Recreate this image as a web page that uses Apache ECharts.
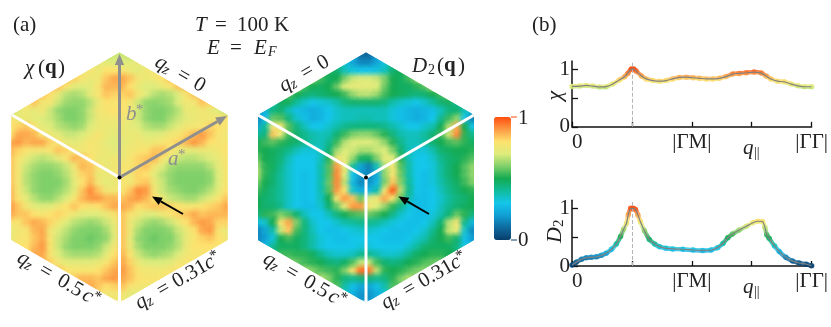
<!DOCTYPE html>
<html>
<head>
<meta charset="utf-8">
<style>
  html, body { margin: 0; padding: 0; background: #fff; }
  #chart { width: 831px; height: 327px; }
</style>
<script src="https://cdn.jsdelivr.net/npm/echarts@6/dist/echarts.min.js"></script>
</head>
<body>
<div id="chart"></div>
<script>
// map values in percent, one row every 8px, each row centred on the hexagon
const chiRows = [
  [66,68,68,66],
  [72,74,72,70,70,72,74,72],
  [80,76,78,74,80,80,78,74,72,76,78,80],
  [84,82,78,74,76,84,88,88,84,76,74,76,80,84],
  [86,84,78,72,70,72,78,86,86,86,80,74,70,70,74,78,84,86],
  [86,84,80,72,66,64,66,72,78,84,82,82,84,76,70,66,64,66,70,78,84,88],
  [80,84,76,76,68,63,62,62,66,74,80,78,80,76,68,62,61,62,64,70,76,76,84,82],
  [66,72,76,72,76,68,62,60,60,62,68,76,78,80,80,76,68,62,60,60,62,66,74,74,76,74,70,66],
  [80,74,74,72,70,68,64,60,60,62,68,74,76,76,76,74,68,62,60,60,64,68,72,74,76,76,78,80],
  [78,82,84,78,72,70,66,64,62,64,70,74,74,74,74,72,70,66,64,64,68,72,76,76,78,82,80,78],
  [80,88,88,86,78,74,72,68,68,70,74,78,74,72,74,74,74,70,70,72,76,78,82,86,90,84,78,76],
  [88,90,86,88,88,82,78,74,72,74,78,76,72,70,72,74,76,74,76,78,80,82,86,90,86,80,78,78],
  [86,82,78,76,76,78,84,82,76,76,78,76,74,72,74,76,78,80,84,84,78,74,72,72,74,74,76,80],
  [84,78,72,68,66,68,72,78,86,84,80,74,74,76,74,78,82,84,86,78,72,68,66,66,68,70,74,78],
  [84,76,68,64,62,62,64,68,76,86,84,78,74,76,78,78,82,84,76,70,64,62,62,62,62,66,72,78],
  [84,76,66,62,60,60,62,66,74,82,84,74,74,76,78,76,82,80,72,66,62,60,60,60,60,62,70,78],
  [84,76,66,62,60,60,60,64,72,80,86,76,72,74,78,76,82,84,74,68,62,60,60,60,60,62,70,78],
  [86,76,68,62,60,60,62,66,72,84,92,84,76,76,78,84,92,90,76,68,64,62,60,60,62,66,72,80],
  [86,78,72,66,62,62,66,70,78,86,90,90,86,86,84,88,90,86,80,74,68,66,64,64,68,72,78,84],
  [90,84,76,72,70,72,76,80,84,80,78,80,84,88,88,86,80,82,84,84,82,80,78,78,80,82,84,88],
  [88,84,84,80,78,80,82,78,74,70,70,70,74,78,84,78,74,70,70,74,78,82,84,88,84,86,86,86],
  [78,78,84,88,86,82,76,70,66,64,62,64,68,74,84,74,68,64,62,64,68,74,80,86,90,88,82,82],
  [74,76,78,86,88,76,70,66,62,60,60,60,64,72,84,74,64,60,60,60,62,68,74,80,88,90,78,74],
  [74,78,78,84,88,78,68,64,60,60,58,60,62,72,84,72,62,60,58,60,60,66,74,78,82,84,80,76],
  [78,80,86,90,78,68,62,60,60,60,62,68,76,84,74,64,60,60,60,62,66,74,80,80,80,80],
  [88,88,78,70,66,64,64,64,66,72,80,86,78,68,64,62,64,66,70,76,78,78],
  [86,82,76,72,72,72,72,74,78,84,88,82,74,70,70,70,72,76,78,80],
  [84,80,78,78,78,80,84,88,90,84,78,76,76,76,78,80],
  [84,86,86,84,88,90,88,84,80,78,78,78],
  [88,84,80,82,84,78,76,76],
  [78,76,76,76,72,72]
]
const d2Rows = [
  [22,10,10,22],
  [42,32,22,16,16,22,32,44],
  [56,50,46,36,32,30,30,32,36,46,50,62],
  [62,54,48,50,60,68,70,70,68,60,50,48,54,64],
  [66,54,50,48,50,58,70,72,72,72,70,58,50,48,48,52,56,68],
  [52,56,50,46,44,46,48,50,54,62,66,66,62,54,50,48,46,44,46,50,54,60],
  [38,48,48,40,34,30,32,34,38,44,46,46,46,46,44,38,34,32,30,34,40,46,48,42],
  [20,26,44,46,36,28,26,24,26,30,34,36,36,36,36,36,36,32,28,26,24,26,28,36,44,46,36,24],
  [14,28,58,56,44,34,28,24,26,30,34,36,36,38,38,36,36,32,28,26,24,26,30,42,54,62,30,14],
  [22,40,76,76,56,44,36,30,30,34,38,42,44,44,44,44,42,38,34,30,30,34,38,50,66,88,50,30],
  [40,44,84,72,54,46,42,38,36,38,46,54,60,62,62,58,52,44,38,36,36,40,46,54,68,92,52,42],
  [50,54,56,52,48,46,42,38,36,42,54,66,70,70,70,68,62,52,42,36,36,40,46,50,54,56,52,48],
  [52,50,48,46,42,36,32,32,36,46,64,70,68,64,64,68,70,60,46,36,32,32,38,46,48,50,50,52],
  [58,50,48,44,36,30,30,30,36,52,76,72,62,48,48,60,72,70,52,36,30,30,34,42,46,48,52,56],
  [64,52,48,42,34,30,30,30,38,56,90,72,40,22,14,36,66,76,56,38,30,30,32,40,46,50,56,62],
  [66,52,46,40,34,30,28,30,38,56,92,70,30,18,16,24,62,78,58,38,30,28,32,40,46,50,56,62],
  [60,50,46,40,34,30,28,30,38,58,92,66,26,16,18,26,60,84,60,40,30,28,32,38,44,48,54,60],
  [54,48,44,40,34,30,28,30,38,56,90,78,34,24,26,38,78,98,66,42,30,28,30,36,42,46,50,52],
  [50,46,44,40,34,30,28,30,36,50,76,90,84,58,70,76,88,76,56,38,28,28,30,34,40,44,46,50],
  [50,46,46,42,34,30,28,28,34,46,58,72,90,90,76,70,62,52,42,32,28,28,30,36,42,46,48,50],
  [44,52,54,60,56,46,36,30,30,36,44,50,54,56,58,54,50,42,34,30,28,28,32,38,46,58,52,44],
  [28,34,50,78,88,60,44,34,30,30,34,38,40,42,42,40,36,32,30,28,28,30,36,46,66,76,42,26],
  [14,22,38,68,84,54,44,36,30,28,28,30,32,34,34,32,30,28,28,28,30,34,42,50,68,72,34,16],
  [16,20,32,50,54,48,44,38,32,30,28,28,30,30,30,30,28,28,28,30,34,38,46,50,54,46,28,20],
  [28,42,48,48,48,44,38,32,30,30,30,30,32,32,30,30,30,30,34,40,46,48,48,48,44,30],
  [54,54,52,52,48,42,36,34,34,36,42,42,38,34,34,36,42,48,50,52,52,50],
  [60,58,54,52,50,46,44,48,56,68,68,54,46,44,46,50,52,56,58,60],
  [64,60,56,54,52,60,78,96,94,66,52,50,52,56,60,62],
  [66,60,52,44,42,44,44,42,44,52,60,66],
  [56,38,28,22,22,28,38,56],
  [34,24,18,18,24,32]
]

const qChi = [0,.13,.24,.35,.46,.57,.68,.79,.88,.93,.99,1.03,1.07,1.16,1.24,1.35,1.46,1.57,1.68,1.79,1.91,2.02,2.13,2.24,2.35,2.46,2.57,2.68,2.79,2.91,3.04,3.16,3.24,3.32,3.43,3.54,3.66,3.77,3.88,4]
const chiLine = [.70,.705,.717,.705,.69,.695,.74,.81,.867,.925,1,1,.965,.88,.83,.80,.79,.80,.83,.855,.86,.85,.84,.83,.83,.84,.87,.913,.925,.936,.948,.93,.88,.827,.79,.78,.74,.71,.694,.694]
const qD2 = [0,.07,.16,.24,.32,.41,.49,.57,.66,.74,.81,.86,.91,.94,.98,1.02,1.06,1.10,1.14,1.21,1.29,1.38,1.46,1.57,1.68,1.85,2.02,2.18,2.32,2.43,2.52,2.60,2.68,2.79,2.91,3.02,3.10,3.18,3.22,3.25,3.29,3.38,3.46,3.57,3.68,3.79,3.91,4]
const d2Line = [.017,.064,.116,.145,.15,.16,.185,.22,.29,.38,.51,.635,.74,.89,1,1,.98,.885,.77,.61,.46,.38,.335,.306,.295,.29,.277,.27,.277,.318,.39,.49,.555,.624,.69,.75,.775,.77,.67,.54,.48,.347,.25,.15,.087,.052,.03,.005]

const xTickLabels = ['0', '', '|ΓM|', '', '|ΓΓ|']
const colorStops = ['#083d6b','#0f6a9e','#109ed4','#14c6ea','#10bc9c','#14aa52','#80d06a','#deec7c','#fde26e','#fc9a44','#ff4d0d']

const FONT = 'Liberation Serif'
const GRAY = '#8f8f8f'
const CELL = 8
const HEX_TOP = 52
const HEX_R = 125
const HEX_HW = 108
const HEX_CY = 177.5
const centers = [119.5, 366]

function mapData(rows, cx) {
  const out = []
  rows.forEach((row, k) => {
    row.forEach((v, c) => {
      out.push([cx + (c + 0.5 - row.length / 2) * CELL, HEX_TOP + (k + 0.5) * CELL, cx, v / 100])
    })
  })
  return out
}

function hexClip(api) {
  const cx = api.value(2)
  const pts = [
    [cx, HEX_CY - HEX_R], [cx + HEX_HW, HEX_CY - HEX_R / 2], [cx + HEX_HW, HEX_CY + HEX_R / 2],
    [cx, HEX_CY + HEX_R], [cx - HEX_HW, HEX_CY + HEX_R / 2], [cx - HEX_HW, HEX_CY - HEX_R / 2]
  ].map(q => api.coord(q))
  return { type: 'polygon', shape: { points: pts } }
}

function renderCell(params, api) {
  const p = api.coord([api.value(0), api.value(1)])
  return {
    type: 'rect',
    shape: { x: p[0] - CELL / 2 - 0.3, y: p[1] - CELL / 2 - 0.3, width: CELL + 0.6, height: CELL + 0.6 },
    style: { fill: api.visual('color') },
    clipPath: hexClip(api)
  }
}

// second pass over the cells, a soft spot on each one so the blocks do not show
function renderSoft(params, api) {
  const p = api.coord([api.value(0), api.value(1)])
  const color = api.visual('color')
  return {
    type: 'circle',
    shape: { cx: p[0], cy: p[1], r: CELL * 1.2 },
    style: {
      fill: {
        type: 'radial', x: 0.5, y: 0.5, r: 0.5,
        colorStops: [
          { offset: 0, color: echarts.color.modifyAlpha(color, 0.95) },
          { offset: 0.4, color: echarts.color.modifyAlpha(color, 0.65) },
          { offset: 1, color: echarts.color.modifyAlpha(color, 0) }
        ]
      }
    },
    clipPath: hexClip(api)
  }
}

function mapSeries(rows, cx, render) {
  return {
    type: 'custom', xAxisIndex: 0, yAxisIndex: 0, data: mapData(rows, cx), renderItem: render,
    silent: true, progressive: 0, animation: false, clip: false
  }
}

function zip(xs, ys) {
  return xs.map((x, i) => [x, ys[i]])
}

// text made of pieces placed along a (possibly rotated) baseline
function mathLabel(cx, cy, rot, width, pieces, color) {
  return {
    type: 'group', x: cx, y: cy, rotation: rot, z: 100,
    children: pieces.map(p => ({
      type: 'text', z: 100, silent: true,
      style: {
        x: p[1] - width / 2, y: p[2],
        text: p[0],
        font: (p[4] || '') + ' ' + p[3] + 'px "' + FONT + '"',
        fill: color || '#222', textVerticalAlign: 'middle'
      }
    }))
  }
}

function arrow(x0, y0, x1, y1, color, w, head) {
  const a = Math.atan2(y1 - y0, x1 - x0)
  const bx = x1 - Math.cos(a) * head
  const by = y1 - Math.sin(a) * head
  const nx = -Math.sin(a) * head * 0.42
  const ny = Math.cos(a) * head * 0.42
  return [
    { type: 'line', z: 100, shape: { x1: x0, y1: y0, x2: bx, y2: by }, style: { stroke: color, lineWidth: w } },
    { type: 'polygon', z: 100, shape: { points: [[x1, y1], [bx + nx, by + ny], [bx - nx, by - ny]] }, style: { fill: color } }
  ]
}

function whiteLine(x0, y0, x1, y1) {
  return { type: 'line', z: 100, shape: { x1: x0, y1: y0, x2: x1, y2: y1 }, style: { stroke: '#fff', lineWidth: 3 } }
}

function dot(x, y) {
  return { type: 'circle', z: 101, shape: { cx: x, cy: y, r: 2 }, style: { fill: '#000' } }
}

const ROT = Math.PI / 6
const I = 'italic'
const qz = [['q', 0, 0, 21, I], ['z', 10, 4, 15, I], ['=', 25, 0, 21]]

const graphics = [
  mathLabel(13, 25, 0, 0, [['(a)', 0, 0, 21]]),
  mathLabel(532, 25, 0, 0, [['(b)', 0, 0, 21]]),
  mathLabel(195, 25, 0, 0, [['T', 0, 0, 21, I], ['=', 20, 0, 21], ['100', 42, 0, 21], ['K', 79, 0, 21]]),
  mathLabel(207, 48, 0, 0, [['E', 0, 0, 21, I], ['=', 23, 0, 21], ['E', 47, 0, 21, I], ['F', 61, 4, 14, I]]),
  mathLabel(25, 68, 0, 0, [['χ', 0, 0, 21, I], ['(', 13, 0, 21], ['q', 20, 0, 21, 'bold'], [')', 33, 0, 21]]),
  mathLabel(412, 66, 0, 0, [['D', 0, 0, 21, I], ['2', 16, 4, 14], ['(', 25, 0, 21], ['q', 32, 0, 21, 'bold'], [')', 46, 0, 21]]),
  mathLabel(180, 74, -ROT, 54, qz.concat([['0', 44, 0, 21]])),
  mathLabel(304, 74, ROT, 54, qz.concat([['0', 44, 0, 21]])),
  mathLabel(60, 280, -ROT, 95, qz.concat([['0.5', 46, 0, 21], ['c', 75, 0, 21, I], ['*', 84, -4, 15]])),
  mathLabel(306, 281, -ROT, 95, qz.concat([['0.5', 46, 0, 21], ['c', 75, 0, 21, I], ['*', 84, -4, 15]])),
  mathLabel(178, 281, ROT, 95, qz.concat([['0.31', 43, 0, 21], ['c', 79, 0, 21, I], ['*', 88, -4, 15]])),
  mathLabel(424, 281, ROT, 95, qz.concat([['0.31', 43, 0, 21], ['c', 79, 0, 21, I], ['*', 88, -4, 15]])),
  mathLabel(126, 114, 0, 0, [['b', 0, 0, 21, I], ['*', 10, -4, 15]], GRAY),
  mathLabel(168, 159, 0, 0, [['a', 0, 0, 21, I], ['*', 10, -4, 15]], GRAY),
  whiteLine(119.5, 177.5, 12, 115),
  whiteLine(119.5, 177.5, 119.5, 302),
  whiteLine(366, 177.5, 258, 115),
  whiteLine(366, 177.5, 474, 115),
  whiteLine(366, 177.5, 366, 302),
  ...arrow(119.5, 177.5, 119.5, 54, GRAY, 3, 11),
  ...arrow(119.5, 177.5, 227, 116, GRAY, 3, 11),
  ...arrow(183, 214, 152, 196.5, '#000', 2, 10),
  ...arrow(429, 214, 398.5, 196.5, '#000', 2, 10),
  dot(119.5, 177.5),
  dot(366, 177.5),
  { type: 'line', z: 100, shape: { x1: 511, y1: 117, x2: 517, y2: 117 }, style: { stroke: '#ff4d0d', lineWidth: 1 } },
  { type: 'line', z: 100, shape: { x1: 511, y1: 240, x2: 517, y2: 240 }, style: { stroke: '#083d6b', lineWidth: 1 } },
  mathLabel(518, 118, 0, 0, [['1', 0, 0, 21]]),
  mathLabel(518, 240, 0, 0, [['0', 0, 0, 21]]),
  mathLabel(555, 95, Math.PI / 2, 11, [['χ', 0, 0, 22, I]]),
  mathLabel(555, 231, Math.PI / 2, 24, [['D', 0, 0, 22, I], ['2', 16, 4, 15]]),
  mathLabel(743, 148, 0, 0, [['q', 0, 0, 21, I], ['||', 11, 5, 14]]),
  mathLabel(743, 287, 0, 0, [['q', 0, 0, 21, I], ['||', 11, 5, 14]])
]

function plotAxis(i) {
  return {
    x: {
      type: 'value', gridIndex: i, min: 0, max: 4, interval: 1,
      axisLine: { show: true, onZero: false, lineStyle: { color: '#111', width: 1.5 } },
      axisTick: { show: true, inside: true, length: 5, lineStyle: { color: '#111', width: 1.3 } },
      splitLine: { show: false },
      axisLabel: {
        margin: 5, color: '#222', fontFamily: FONT, fontSize: 21, showMinLabel: true, showMaxLabel: true,
        alignMinLabel: 'left', formatter: v => xTickLabels[v] || ''
      }
    },
    y: {
      type: 'value', gridIndex: i, min: 0, max: 1.14,
      axisLine: { show: true, lineStyle: { color: '#111', width: 1.5 } },
      axisTick: { show: true, inside: true, length: 6, customValues: [0, 0.5, 1], lineStyle: { color: '#111', width: 1.3 } },
      splitLine: { show: false },
      axisLabel: { margin: 2, color: '#222', fontFamily: FONT, fontSize: 21, customValues: [0, 1], formatter: v => String(v) }
    }
  }
}

function profileSeries(axisIndex, pts) {
  return [
    {
      type: 'line', xAxisIndex: axisIndex, yAxisIndex: axisIndex, data: pts, smooth: 0.2,
      showSymbol: false, silent: true, clip: false, animation: false,
      lineStyle: { width: 4.5, cap: 'round', opacity: 0.8 }
    },
    {
      type: 'scatter', xAxisIndex: axisIndex, yAxisIndex: axisIndex, data: pts, symbolSize: 5.5,
      silent: true, clip: false, animation: false, itemStyle: { opacity: 0.8 }
    },
    {
      type: 'line', xAxisIndex: axisIndex, yAxisIndex: axisIndex, data: pts, smooth: 0.2, z: 5,
      showSymbol: false, silent: true, clip: false, animation: false,
      lineStyle: { width: 1.2, color: '#808080' },
      markLine: {
        silent: true, symbol: 'none', animation: false, label: { show: false },
        lineStyle: { color: '#b5b5b5', type: 'dashed', width: 1 },
        data: [{ xAxis: 1 }]
      }
    }
  ]
}

const chart = echarts.init(document.getElementById('chart'))
const upperAxes = plotAxis(1)
const lowerAxes = plotAxis(2)

chart.setOption({
  animation: false,
  grid: [
    { left: 0, top: 0, width: 831, height: 327, show: false },
    { left: 572, top: 61, width: 241, height: 65.8 },
    { left: 572, top: 200.2, width: 241, height: 65.8 }
  ],
  xAxis: [{ type: 'value', gridIndex: 0, min: 0, max: 831, show: false }, upperAxes.x, lowerAxes.x],
  yAxis: [{ type: 'value', gridIndex: 0, min: 0, max: 327, inverse: true, show: false }, upperAxes.y, lowerAxes.y],
  visualMap: {
    type: 'continuous', min: 0, max: 1, seriesIndex: [0, 1, 2, 3, 4, 5, 7, 8],
    left: 494, top: 117, itemWidth: 17, itemHeight: 123, padding: 0,
    calculable: false, hoverLink: false, text: null, showLabel: false,
    textStyle: { fontSize: 0, color: 'transparent' },
    inRange: { color: colorStops }
  },
  series: [
    mapSeries(chiRows, centers[0], renderCell),
    mapSeries(d2Rows, centers[1], renderCell),
    mapSeries(chiRows, centers[0], renderSoft),
    mapSeries(d2Rows, centers[1], renderSoft),
    ...profileSeries(1, zip(qChi, chiLine)),
    ...profileSeries(2, zip(qD2, d2Line))
  ],
  graphic: { elements: graphics }
})
</script>
</body>
</html>
